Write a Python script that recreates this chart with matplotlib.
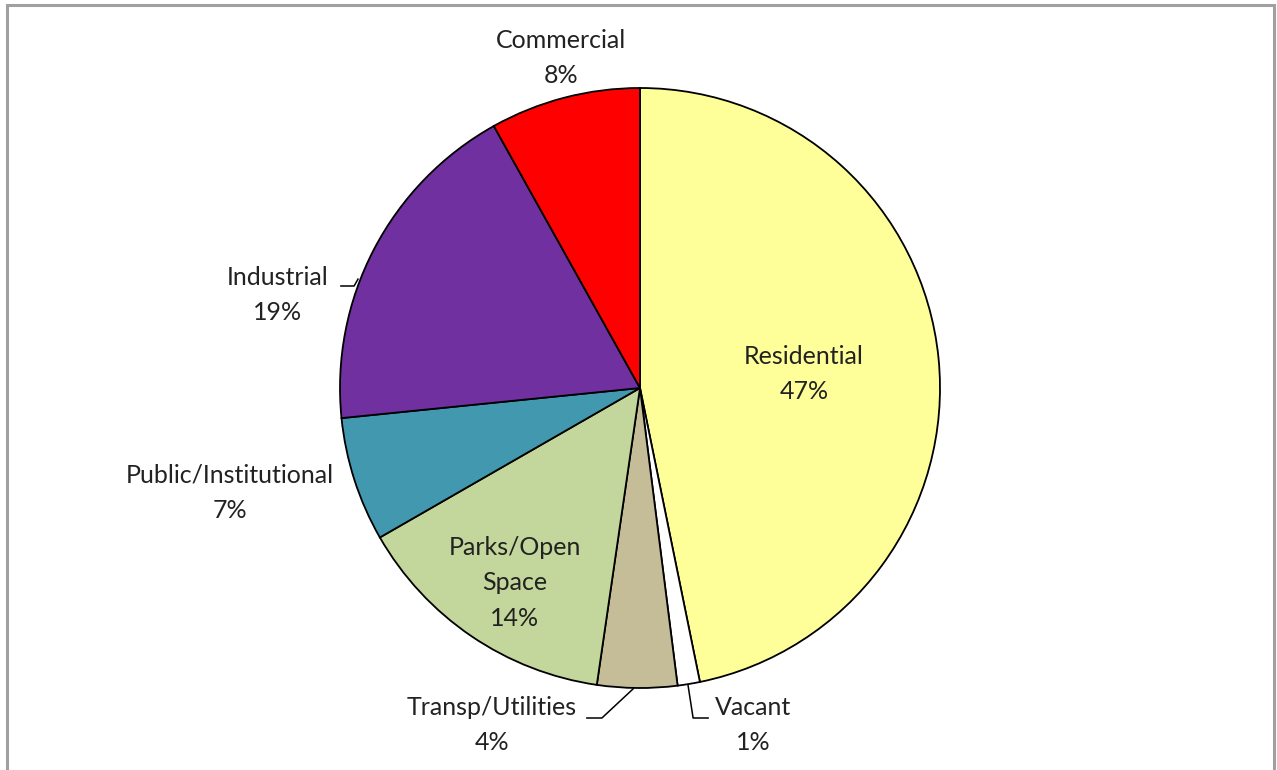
import matplotlib.pyplot as plt
from matplotlib.patches import Rectangle

# Datos del grafico (porcentajes)
categories = ['Residential', 'Vacant', 'Transp/Utilities', 'Parks/Open\nSpace',
              'Public/Institutional', 'Industrial', 'Commercial']
shares = [46.8, 1.2, 4.3, 14.4, 6.7, 18.5, 8.1]
pct_labels = ['47%', '1%', '4%', '14%', '7%', '19%', '8%']
colors = ['#FFFF99', '#FFFFFF', '#C4BD97', '#C3D69B', '#4198AF', '#7030A0', '#FF0000']

# Posiciones de las etiquetas (coordenadas del eje, radio = 1)
label_pos = {
    'Residential': (0.547, 0.047),
    'Vacant': (0.377, -1.123),
    'Transp/Utilities': (-0.493, -1.123),
    'Parks/Open\nSpace': (-0.417, -0.65),
    'Public/Institutional': (-1.367, -0.35),
    'Industrial': (-1.207, 0.31),
    'Commercial': (-0.263, 1.10),
}

# Lineas guia (leader lines)
leaders = {
    'Industrial': [(-0.997, 0.34), (-0.953, 0.34), (-0.94, 0.363)],
    'Transp/Utilities': [(-0.177, -1.10), (-0.127, -1.10), (-0.023, -1.003)],
    'Vacant': [(0.16, -0.99), (0.177, -1.10), (0.227, -1.10)],
}

plt.rcParams['font.family'] = ['Lato', 'DejaVu Sans']

W, H = 1277, 770
fig = plt.figure(figsize=(W / 100, H / 100), dpi=100)

# Borde gris del grafico
fig.patches.append(Rectangle((7 / W, -0.02), (1274 - 7) / W, 1 - 5 / H + 0.02,
                             transform=fig.transFigure, fill=False,
                             edgecolor='#A0A0A0', linewidth=2.2))

cx, cy, r = 640, 388, 300
ax = fig.add_axes([(cx - r) / W, (H - cy - r) / H, 2 * r / W, 2 * r / H])
ax.pie(shares, colors=colors, startangle=90, counterclock=False, radius=1,
       wedgeprops={'edgecolor': 'black', 'linewidth': 1.3})
ax.set_xlim(-1, 1)
ax.set_ylim(-1, 1)
ax.set_aspect('equal')
ax.axis('off')

for cat, pct in zip(categories, pct_labels):
    x, y = label_pos[cat]
    ax.text(x, y, cat + '\n' + pct, ha='center', va='center', fontsize=18,
            color='#222222', linespacing=1.65, clip_on=False)

for cat, pts in leaders.items():
    xs = [p[0] for p in pts]
    ys = [p[1] for p in pts]
    ax.plot(xs, ys, color='black', linewidth=1.1, clip_on=False)

fig.savefig('out.png', dpi=100)
